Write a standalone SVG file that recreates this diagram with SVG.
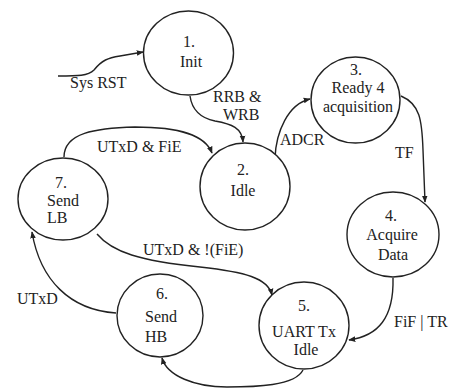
<svg xmlns="http://www.w3.org/2000/svg" width="454" height="388" viewBox="0 0 454 388" font-family="'Liberation Serif', 'Times New Roman', 'DejaVu Serif', serif" font-size="16">
<defs>
<marker id="ah" viewBox="0 0 10 10" refX="9" refY="5" markerWidth="7" markerHeight="7" markerUnits="userSpaceOnUse" orient="auto">
<path d="M0,1 L10,5 L0,9 z" fill="#222"/>
</marker>
<style>
.n{fill:#fff;stroke:#222;stroke-width:1.4}
.c{fill:none;stroke:#222;stroke-width:1.4;marker-end:url(#ah)}
text{font-family:'Liberation Serif','Times New Roman','DejaVu Serif',serif;font-size:16px;fill:#222}
.m{text-anchor:middle}
</style>
</defs>
<rect width="454" height="388" fill="#fff"/>
<g id="connectors">
<path class="c" d="M58,76 C78,76 88,76 94,70 C102,60 108,58 120,56 L143,52"/>
<path class="c" d="M190,96 C192,110 200,118 215,121 C232,124 242,128 243,142"/>
<path class="c" d="M275,158 C276,132 288,104 310,99"/>
<path class="c" d="M401,96 C420,104 422,120 423,150 L425,202"/>
<path class="c" d="M393,278 C394,318 378,336 349,340"/>
<path class="c" d="M303,370 C295,386 255,387 227,387 C195,387 167,376 162,358"/>
<path class="c" d="M116,313 C70,310 40,280 32,232"/>
<path class="c" d="M97,234 C112,252 140,261 200,267 C245,272 268,278 272,295"/>
<path class="c" d="M64,157 C64,133 95,128 135,127 C180,127 205,135 212,153"/>
</g>
<g id="labels">
<text x="70" y="88">Sys RST</text>
<text x="213" y="102">RRB &amp;</text>
<text x="223" y="120">WRB</text>
<text x="280" y="145">ADCR</text>
<text x="395" y="158">TF</text>
<text x="394" y="327">FiF | TR</text>
<text x="17" y="304">UTxD</text>
<text x="143" y="255">UTxD &amp; !(FiE)</text>
<text x="97" y="152">UTxD &amp; FiE</text>
</g>
<g id="n1"><ellipse class="n" cx="188.5" cy="53" rx="45" ry="42"/><text class="m" x="189" y="47">1.</text><text class="m" x="191" y="67">Init</text></g>
<g id="n2"><ellipse class="n" cx="245" cy="186.5" rx="45" ry="43.5"/><text class="m" x="243" y="175">2.</text><text class="m" x="243" y="196">Idle</text></g>
<g id="n3"><ellipse class="n" cx="355.5" cy="100" rx="44.5" ry="43"/><text class="m" x="356" y="75">3.</text><text class="m" x="358" y="93">Ready 4</text><text class="m" x="358" y="112">acquisition</text></g>
<g id="n4"><ellipse class="n" cx="393" cy="234.5" rx="46" ry="42.5"/><text class="m" x="391" y="221">4.</text><text class="m" x="392" y="240">Acquire</text><text class="m" x="393" y="260">Data</text></g>
<g id="n5"><ellipse class="n" cx="304" cy="325.5" rx="45" ry="43.5"/><text class="m" x="304" y="311">5.</text><text class="m" x="304" y="337">UART Tx</text><text class="m" x="306" y="355">Idle</text></g>
<g id="n6"><ellipse class="n" cx="160" cy="315.5" rx="43" ry="41.5"/><text class="m" x="162" y="299">6.</text><text x="145" y="322">Send</text><text x="145" y="342">HB</text></g>
<g id="n7"><ellipse class="n" cx="63" cy="199" rx="45" ry="41"/><text class="m" x="61" y="188">7.</text><text x="47" y="206">Send</text><text x="47" y="223">LB</text></g>
</svg>
